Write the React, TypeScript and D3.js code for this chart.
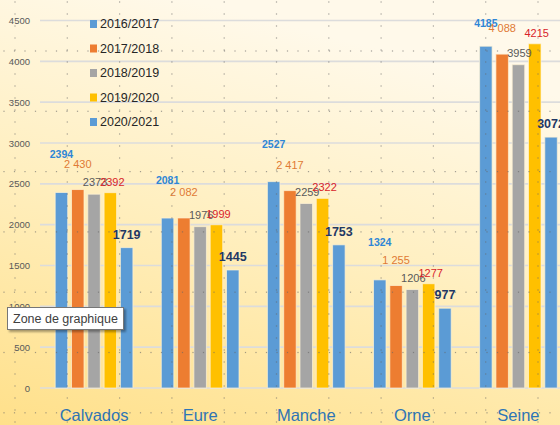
import React from "react";
import * as d3 from "d3";

const categories = ["Calvados", "Eure", "Manche", "Orne", "Seine"];
const seriesNames = ["2016/2017", "2017/2018", "2018/2019", "2019/2020", "2020/2021"];
const s2016 = [2394, 2081, 2527, 1324, 4185];
const s2017 = [2430, 2082, 2417, 1255, 4088];
const s2018 = [2373, 1976, 2259, 1206, 3959];
const s2019 = [2392, 1999, 2322, 1277, 4215];
const s2020 = [1719, 1445, 1753, 977, 3072];
const labelText2017 = ["2 430", "2 082", "2 417", "1 255", "4 088"];
const yTicks = [0, 500, 1000, 1500, 2000, 2500, 3000, 3500, 4000, 4500];

const seriesValues = [s2016, s2017, s2018, s2019, s2020];

const W = 560;
const H = 425;
const barColors = ["#5B9BD5", "#ED7D31", "#A5A5A5", "#FFC000", "#5B9BD5"];
const labelColors = ["#2E86D6", "#E07A35", "#595959", "#D8232A", "#1F3864"];
const labelWeights = [700, 400, 400, 400, 700];
const labelSizes = [10.5, 11, 11, 11, 12.5];
const labelDx = [0, 0, 1, 2, 0];
const labelDy = [-38, -26, -12, -11, -13];

export default function App() {
  const x0 = d3.scaleBand<string>().domain(categories).range([41, 571.5]).paddingInner(0).paddingOuter(0);
  const x1 = d3
    .scaleBand<string>()
    .domain(seriesNames)
    .range([-38.85, 38.85])
    .paddingInner(0.233)
    .paddingOuter(0);
  const y = d3.scaleLinear().domain([0, 4500]).range([388, 20.5]);

  const vDotX = d3.range(0, 11).map((k) => 15 + 52.3 * k);
  const hDotY = d3.range(0, 7).map((k) => 51 + 60.3 * k);
  const dotsAlongV = d3.range(2, H, 12);
  const dotsAlongH = d3.range(4, W, 10.5);

  const font = "'Liberation Sans', Arial, sans-serif";

  return (
    <svg width={W} height={H} style={{ position: "absolute", left: 0, top: 0, display: "block" }}>
      <defs>
        <linearGradient id="bg" x1="0.35" y1="0" x2="0" y2="1">
          <stop offset="0" stopColor="#FFF9EA" />
          <stop offset="0.45" stopColor="#FFEFC0" />
          <stop offset="1" stopColor="#FFE08A" />
        </linearGradient>
        <filter id="sh" x="-10%" y="-20%" width="130%" height="160%">
          <feDropShadow dx="2" dy="2" stdDeviation="1" floodColor="#000" floodOpacity="0.35" />
        </filter>
      </defs>
      <rect x={0} y={0} width={W} height={H} fill="url(#bg)" />

      {/* value gridlines */}
      {yTicks.map((t) => (
        <line key={"g" + t} x1={40} x2={W} y1={y(t)} y2={y(t)} stroke="#DCDCDC" strokeWidth={1.6} />
      ))}
      {yTicks.map((t) => (
        <text
          key={"t" + t}
          x={30}
          y={y(t)}
          textAnchor="end"
          dominantBaseline="central"
          fontFamily={font}
          fontSize={9.5}
          fill="#595959"
        >
          {t}
        </text>
      ))}

      {/* bars */}
      {categories.map((c, ci) => (
        <g key={c} transform={`translate(${(x0(c) as number) + x0.bandwidth() / 2},0)`}>
          {seriesNames.map((s, si) => {
            const v = seriesValues[si][ci];
            return (
              <rect
                key={s}
                x={x1(s) as number}
                y={y(v)}
                width={x1.bandwidth()}
                height={y(0) - y(v)}
                fill={barColors[si]}
                stroke="#FFF3D6"
                strokeOpacity={0.7}
                strokeWidth={1}
              />
            );
          })}
        </g>
      ))}

      {/* data labels */}
      {categories.map((c, ci) => (
        <g key={"l" + c} transform={`translate(${(x0(c) as number) + x0.bandwidth() / 2},0)`}>
          {seriesNames.map((s, si) => {
            const v = seriesValues[si][ci];
            const cx = (x1(s) as number) + x1.bandwidth() / 2 + labelDx[si];
            const cy = Math.max(23, y(v) + labelDy[si]);
            const txt = si === 1 ? labelText2017[ci] : String(v);
            return (
              <text
                key={s}
                x={cx}
                y={cy}
                textAnchor="middle"
                dominantBaseline="central"
                fontFamily={font}
                fontSize={labelSizes[si]}
                fontWeight={labelWeights[si]}
                fill={labelColors[si]}
              >
                {txt}
              </text>
            );
          })}
        </g>
      ))}

      {/* category labels */}
      {categories.map((c) => (
        <text
          key={"c" + c}
          x={(x0(c) as number) + x0.bandwidth() / 2}
          y={415}
          textAnchor="middle"
          dominantBaseline="central"
          fontFamily={font}
          fontSize={16.5}
          fill="#2E75B6"
        >
          {c}
        </text>
      ))}

      {/* legend */}
      {seriesNames.map((s, si) => (
        <g key={"lg" + s} transform={`translate(90,${24 + si * 24.5})`}>
          <rect x={0} y={-4} width={7} height={8} fill={barColors[si]} />
          <text x={10} y={0} dominantBaseline="central" fontFamily={font} fontSize={12.5} fill="#262626">
            {s}
          </text>
        </g>
      ))}

      {/* sheet dotted grid */}
      {vDotX.map((dx) => (
        <g key={"vd" + dx}>
          {dotsAlongV.map((dy) => (
            <rect key={dy} x={dx - 0.6} y={dy - 0.6} width={1.2} height={1.2} fill="#666" opacity={0.6} />
          ))}
        </g>
      ))}
      {hDotY.map((dy) => (
        <g key={"hd" + dy}>
          {dotsAlongH.map((dx) => (
            <rect key={dx} x={dx - 0.6} y={dy - 0.6} width={1.2} height={1.2} fill="#666" opacity={0.6} />
          ))}
        </g>
      ))}

      {/* tooltip */}
      <g filter="url(#sh)">
        <rect x={7.5} y={307.5} width={116} height={22} fill="#FFFFFF" stroke="#767676" strokeWidth={1} />
      </g>
      <text x={13} y={318.5} dominantBaseline="central" fontFamily={font} fontSize={12.5} fill="#404040">
        Zone de graphique
      </text>
    </svg>
  );
}
